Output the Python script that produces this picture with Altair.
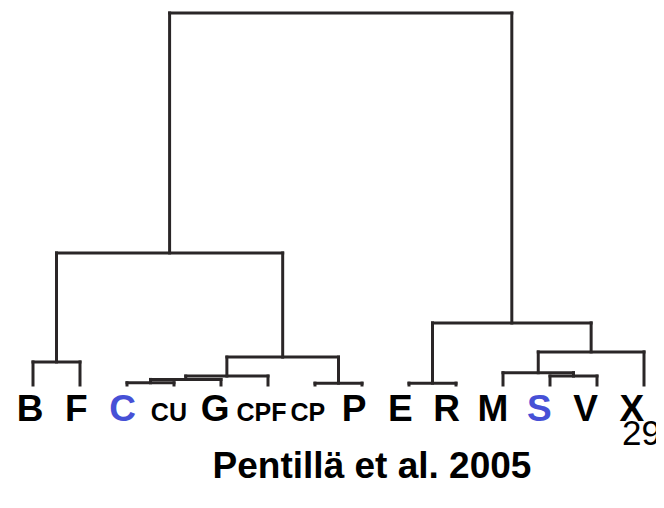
import altair as alt
import pandas as pd

# ---- data ----
leaves = ["B", "F", "C", "CU", "G", "CPF", "CP", "P", "E", "R", "M", "S", "V", "X"]
highlighted = ["C", "S"]
small_labels = ["CU", "CPF", "CP"]

# merges: child a, child b, merge height (relative distance, root = 100)
merge_a = ["C", "m0", "m1", "CP", "m2", "B", "m5", "E", "S", "M", "m9", "m7", "m6"]
merge_b = ["CU", "G", "CPF", "P", "m3", "F", "m4", "R", "V", "m8", "X", "m10", "m11"]
merge_h = [0.6, 1.5, 2.4, 0.5, 7.5, 6.2, 35.5, 0.5, 2.4, 3.3, 8.9, 16.7, 100.0]

title_text = "Pentillä et al. 2005"
corner_text = "29"

# ---- build the dendrogram segments from the tree ----
pos = {name: i for i, name in enumerate(leaves)}
ht = {name: 0.0 for name in leaves}
rows = []
for k, (a, b, h) in enumerate(zip(merge_a, merge_b, merge_h)):
    xa, xb = pos[a], pos[b]
    rows.append({"x": xa, "x2": xb, "y": h, "y2": h})
    rows.append({"x": xa, "x2": xa, "y": ht[a], "y2": h})
    rows.append({"x": xb, "x2": xb, "y": ht[b], "y2": h})
    pos[f"m{k}"] = (xa + xb) / 2
    ht[f"m{k}"] = h
seg_df = pd.DataFrame(rows)

lab_df = pd.DataFrame({
    "leaf": leaves,
    "idx": list(range(len(leaves))),
    "col": ["#4650d6" if l in highlighted else "#000000" for l in leaves],
    "fs": [25 if l in small_labels else 37 for l in leaves],
})

# ---- layout ----
W, H = 648, 492
leaf0_px, leaf_step = 25, 47.0
base_px, unit_px = 377, 3.72
lab0_px, lab_step = 22, 46.3

xscale = alt.Scale(domain=[-leaf0_px / leaf_step, (W - leaf0_px) / leaf_step], nice=False, zero=False)
yscale = alt.Scale(domain=[(base_px - H) / unit_px, base_px / unit_px], nice=False, zero=False)
lscale = alt.Scale(domain=[-lab0_px / lab_step, (W - lab0_px) / lab_step], nice=False, zero=False)

rules = alt.Chart(seg_df).mark_rule(color="#2a2627", strokeWidth=3, strokeCap="square").encode(
    x=alt.X("x:Q", scale=xscale, axis=None),
    x2="x2:Q",
    y=alt.Y("y:Q", scale=yscale, axis=None),
    y2="y2:Q",
)

labels = alt.Chart(lab_df).mark_text(
    font="Liberation Sans", fontWeight="bold", align="center", baseline="alphabetic"
).encode(
    x=alt.X("idx:Q", scale=lscale, axis=None),
    y=alt.value(413),
    text="leaf:N",
    color=alt.Color("col:N", scale=None),
    size=alt.Size("fs:Q", scale=None),
)

title = alt.Chart(pd.DataFrame({"t": [title_text]})).mark_text(
    font="Liberation Sans", fontWeight="bold", fontSize=37, align="center", baseline="alphabetic", color="#000000"
).encode(x=alt.value(364), y=alt.value(470), text="t:N")

corner = alt.Chart(pd.DataFrame({"t": [corner_text]})).mark_text(
    font="Liberation Sans", fontSize=35, align="left", baseline="alphabetic", color="#000000"
).encode(x=alt.value(614), y=alt.value(437), text="t:N")

chart = alt.layer(rules, labels, title, corner).resolve_scale(x="independent").properties(
    width=W, height=H, padding=0, autosize=alt.AutoSizeParams(type="none"), background="white"
).configure_view(strokeWidth=0)

chart.save("out.html", embed_options={"renderer": "svg", "actions": False})
